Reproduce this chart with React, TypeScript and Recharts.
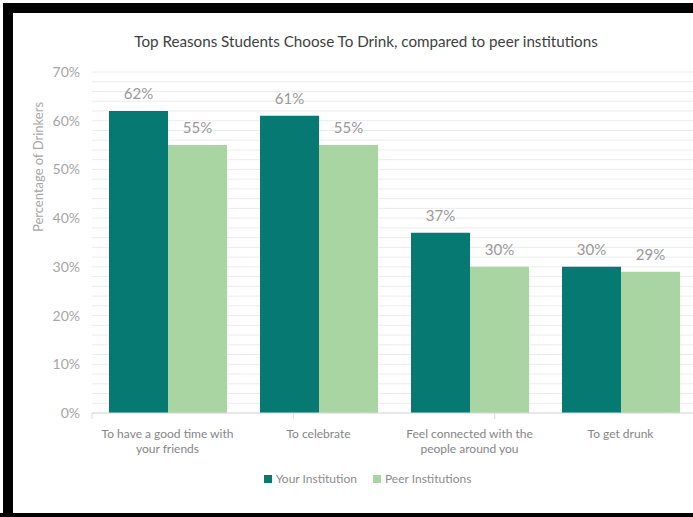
import React from "react";
import {
  Bar,
  BarChart,
  CartesianGrid,
  Label,
  LabelList,
  Legend,
  XAxis,
  YAxis,
} from "recharts";

const categories = [
  "To have a good time with\nyour friends",
  "To celebrate",
  "Feel connected with the\npeople around you",
  "To get drunk",
];
const yourInstitution = [62, 61, 37, 30];
const peerInstitutions = [55, 55, 30, 29];
const yTicks = [
  0, 2, 4, 6, 8, 10, 12, 14, 16, 18, 20, 22, 24, 26, 28, 30, 32, 34, 36, 38,
  40, 42, 44, 46, 48, 50, 52, 54, 56, 58, 60, 62, 64, 66, 68, 70,
];
const edgeTicks = [0, 1, 2, 3, 4];
const seriesOrder = ["your", "peer"];

const TEAL = "#067a72";
const GREEN = "#a8d5a2";
const FONT = "Lato, 'Open Sans', sans-serif";

const chartData = categories.map((name, i) => ({
  name,
  your: yourInstitution[i],
  peer: peerInstitutions[i],
}));

const CategoryTick = ({ x, y, payload }: any) => {
  const lines = String(payload.value).split("\n");
  return (
    <text x={x} y={y} textAnchor="middle" fill="#858585" fontSize={12} fontFamily={FONT}>
      {lines.map((line, i) => (
        <tspan key={i} x={x} dy={i === 0 ? 12 : 15}>
          {line}
        </tspan>
      ))}
    </text>
  );
};

const YAxisTitle = ({ viewBox }: any) => {
  const cx = viewBox.x + 40;
  const cy = viewBox.y + 95;
  return (
    <text
      x={cx}
      y={cy}
      transform={`rotate(-90, ${cx}, ${cy})`}
      textAnchor="middle"
      dominantBaseline="middle"
      fill="#a6a6a6"
      fontSize={13}
      fontFamily={FONT}
    >
      Percentage of Drinkers
    </text>
  );
};

const CustomLegend = ({ payload }: any) => {
  const items = [...(payload ?? [])].sort(
    (a: any, b: any) => seriesOrder.indexOf(a.dataKey) - seriesOrder.indexOf(b.dataKey)
  );
  return (
    <div
      style={{
        display: "flex",
        justifyContent: "center",
        height: 20,
        lineHeight: "20px",
        fontFamily: FONT,
        fontSize: 12,
        color: "#8c8c8c",
      }}
    >
      {items.map((entry: any) => (
        <span key={entry.value} style={{ display: "flex", alignItems: "center", margin: "0 8px" }}>
          <span
            style={{
              width: 8,
              height: 8,
              background: entry.color,
              display: "inline-block",
              marginRight: 4,
            }}
          />
          {entry.value}
        </span>
      ))}
    </div>
  );
};

export default function App() {
  return (
    <div
      style={{
        position: "fixed",
        left: 0,
        top: 0,
        width: 693,
        height: 517,
        overflow: "hidden",
        background: "#fff",
      }}
    >
      <div style={{ position: "absolute", left: 3, top: 3, width: 700, height: 10, background: "#000" }} />
      <div style={{ position: "absolute", left: 3, top: 3, width: 10, height: 520, background: "#000" }} />
      <div style={{ position: "absolute", left: 0, top: 513, width: 700, height: 4, background: "#000" }} />
      <div
        style={{
          position: "absolute",
          left: 0,
          top: 32,
          width: 732,
          textAlign: "center",
          fontFamily: FONT,
          fontSize: 15.2,
          color: "#404040",
        }}
      >
        Top Reasons Students Choose To Drink, compared to peer institutions
      </div>
      <div style={{ position: "absolute", left: 0, top: 0 }}>
        <BarChart
          width={720}
          height={517}
          data={chartData}
          margin={{ top: 72, right: 24, bottom: 28, left: 0 }}
          barCategoryGap={17}
          barGap={0}
        >
          <CartesianGrid vertical={false} stroke="#ececec" />
          <XAxis
            xAxisId="cat"
            dataKey="name"
            height={51}
            axisLine={false}
            tickLine={false}
            interval={0}
            tick={<CategoryTick />}
          />
          <XAxis
            xAxisId="axis"
            type="number"
            domain={[0, 4]}
            ticks={edgeTicks}
            interval={0}
            tickFormatter={() => ""}
            tickSize={6}
            height={5}
            stroke="#d9d9d9"
          />
          <YAxis
            width={92}
            domain={[0, 70]}
            ticks={yTicks}
            interval={0}
            axisLine={false}
            tickLine={false}
            tickSize={0}
            tickMargin={12}
            tick={{ fill: "#a6a6a6", fontSize: 14, fontFamily: FONT }}
            tickFormatter={(v: number) => (v % 10 === 0 ? `${v}%` : "")}
            label={<Label content={<YAxisTitle />} />}
          />
          <Legend
            verticalAlign="bottom"
            wrapperStyle={{ left: 0, width: 735 }}
            content={<CustomLegend />}
          />
          <Bar xAxisId="cat" dataKey="your" name="Your Institution" fill={TEAL} isAnimationActive={false}>
            <LabelList
              dataKey="your"
              position="top"
              offset={12}
              fill="#999999"
              fontSize={15}
              fontFamily={FONT}
              formatter={(v: any) => `${v}%`}
            />
          </Bar>
          <Bar xAxisId="cat" dataKey="peer" name="Peer Institutions" fill={GREEN} isAnimationActive={false}>
            <LabelList
              dataKey="peer"
              position="top"
              offset={12}
              fill="#999999"
              fontSize={15}
              fontFamily={FONT}
              formatter={(v: any) => `${v}%`}
            />
          </Bar>
        </BarChart>
      </div>
    </div>
  );
}
